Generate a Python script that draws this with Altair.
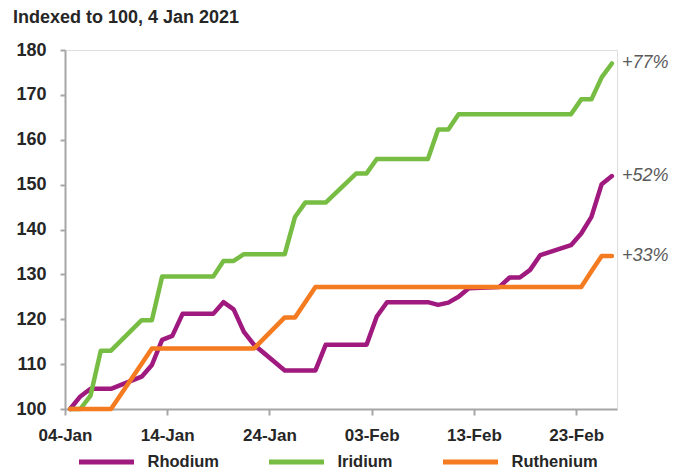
import altair as alt
import pandas as pd

# ---- data ----
dates = [
    "2021-01-04", "2021-01-05", "2021-01-06", "2021-01-07", "2021-01-08",
    "2021-01-11", "2021-01-12", "2021-01-13", "2021-01-14", "2021-01-15",
    "2021-01-18", "2021-01-19", "2021-01-20", "2021-01-21", "2021-01-22",
    "2021-01-25", "2021-01-26", "2021-01-27", "2021-01-28", "2021-01-29",
    "2021-02-01", "2021-02-02", "2021-02-03", "2021-02-04", "2021-02-05",
    "2021-02-08", "2021-02-09", "2021-02-10", "2021-02-11", "2021-02-12",
    "2021-02-15", "2021-02-16", "2021-02-17", "2021-02-18", "2021-02-19",
    "2021-02-22", "2021-02-23", "2021-02-24", "2021-02-25", "2021-02-26",
]
rhodium = [
    100, 102.8, 104.5, 104.5, 104.5,
    107.2, 109.8, 115.4, 116.3, 121.2,
    121.2, 123.8, 122.2, 117.2, 114.3,
    108.6, 108.6, 108.6, 108.6, 114.3,
    114.3, 114.3, 120.6, 123.8, 123.8,
    123.8, 123.2, 123.7, 125.0, 126.9,
    127.2, 129.3, 129.3, 131.0, 134.3,
    136.5, 139.1, 142.8, 150.1, 151.9,
]
iridium = [
    100, 100, 103, 113, 113,
    119.8, 119.8, 129.5, 129.5, 129.5,
    129.5, 133.0, 133.0, 134.5, 134.5,
    134.5, 142.8, 146.0, 146.0, 146.0,
    152.5, 152.5, 155.7, 155.7, 155.7,
    155.7, 162.3, 162.3, 165.7, 165.7,
    165.7, 165.7, 165.7, 165.7, 165.7,
    165.7, 169.0, 169.0, 173.9, 177.0,
]
ruthenium = [
    100, 100, 100, 100, 100,
    110.1, 113.5, 113.5, 113.5, 113.5,
    113.5, 113.5, 113.5, 113.5, 113.5,
    120.4, 120.4, 123.8, 127.2, 127.2,
    127.2, 127.2, 127.2, 127.2, 127.2,
    127.2, 127.2, 127.2, 127.2, 127.2,
    127.2, 127.2, 127.2, 127.2, 127.2,
    127.2, 127.2, 130.7, 134.1, 134.1,
]
series_names = ["Rhodium", "Iridium", "Ruthenium"]
series_colors = ["#A0197F", "#77BD43", "#F47B20"]
end_labels = ["+52%", "+77%", "+33%"]
tick_dates = [(2021, 1, 4), (2021, 1, 14), (2021, 1, 24), (2021, 2, 3), (2021, 2, 13), (2021, 2, 23)]
y_ticks = [100, 110, 120, 130, 140, 150, 160, 170, 180]
title_text = "Indexed to 100, 4 Jan 2021"

# ---- tables ----
rows = []
for name, vals in zip(series_names, [rhodium, iridium, ruthenium]):
    for d, v in zip(dates, vals):
        rows.append({"date": d, "value": v, "series": name})
df = pd.DataFrame(rows)

end_rows = []
for name, vals, lab in zip(series_names, [rhodium, iridium, ruthenium], end_labels):
    end_rows.append({"date": dates[-1], "value": vals[-1], "series": name, "label": lab})
df_end = pd.DataFrame(end_rows)

FONT = "Liberation Sans"

x_enc = alt.X(
    "date:T",
    timeUnit="utcyearmonthdate",
    bandPosition=0.5,
    scale=alt.Scale(
        domain=[alt.DateTime(year=2021, month=1, date=4, utc=True),
                alt.DateTime(year=2021, month=2, date=27, utc=True)]
    ),
    axis=alt.Axis(
        values=[alt.DateTime(year=y, month=m, date=d, utc=True) for (y, m, d) in tick_dates],
        labelExpr="utcFormat(datum.value, '%d-%b')",
        title=None,
        grid=False,
        domainColor="#A6A6A6",
        domainWidth=2,
        tickColor="#A6A6A6",
        tickWidth=2,
        tickSize=6,
        labelPadding=12,
        labelFont=FONT,
        labelFontSize=17,
        labelFontWeight="bold",
        labelColor="#262626",
        labelFlush=False,
        labelOverlap=False,
    ),
)
y_enc = alt.Y(
    "value:Q",
    scale=alt.Scale(domain=[100, 180], nice=False, zero=False),
    axis=alt.Axis(
        values=y_ticks,
        title=None,
        grid=False,
        domainColor="#A6A6A6",
        domainWidth=2,
        tickColor="#A6A6A6",
        tickWidth=2,
        tickSize=5,
        labelPadding=14,
        labelFont=FONT,
        labelFontSize=18,
        labelFontWeight="bold",
        labelColor="#262626",
    ),
)

color_enc = alt.Color(
    "series:N",
    scale=alt.Scale(domain=series_names, range=series_colors),
    legend=alt.Legend(
        title=None,
        orient="none",
        direction="horizontal",
        legendX=11.5,
        legendY=382,
        symbolType="stroke",
        symbolSize=3025,
        symbolStrokeWidth=5,
        labelFont=FONT,
        labelFontSize=16.5,
        labelFontWeight="bold",
        labelColor="#262626",
        labelOffset=11,
        columnPadding=39,
        padding=0,
    ),
)

lines = alt.Chart(df).mark_line(
    strokeWidth=4.5, strokeCap="round", strokeJoin="round"
).encode(x=x_enc, y=y_enc, color=color_enc)

labels = alt.Chart(df_end).mark_text(
    align="left", baseline="middle", dx=10, font=FONT, fontSize=18,
    fontStyle="italic", color="#595959"
).encode(
    x=alt.X("date:T", timeUnit="utcyearmonthdate", bandPosition=0.5),
    y="value:Q",
    text="label:N",
)

chart = alt.layer(lines, labels).properties(
    width=552,
    height=359,
    autosize="none",
    padding={"left": 57, "top": 42, "right": 61, "bottom": 62},
    title=alt.TitleParams(
        title_text, anchor="start", frame="group", dx=-52, offset=14,
        font=FONT, fontSize=18, fontWeight="bold", color="#262626",
    ),
).configure_view(stroke=None).configure(background="white")

chart.save("out.html", embed_options={"renderer": "svg", "actions": False})
